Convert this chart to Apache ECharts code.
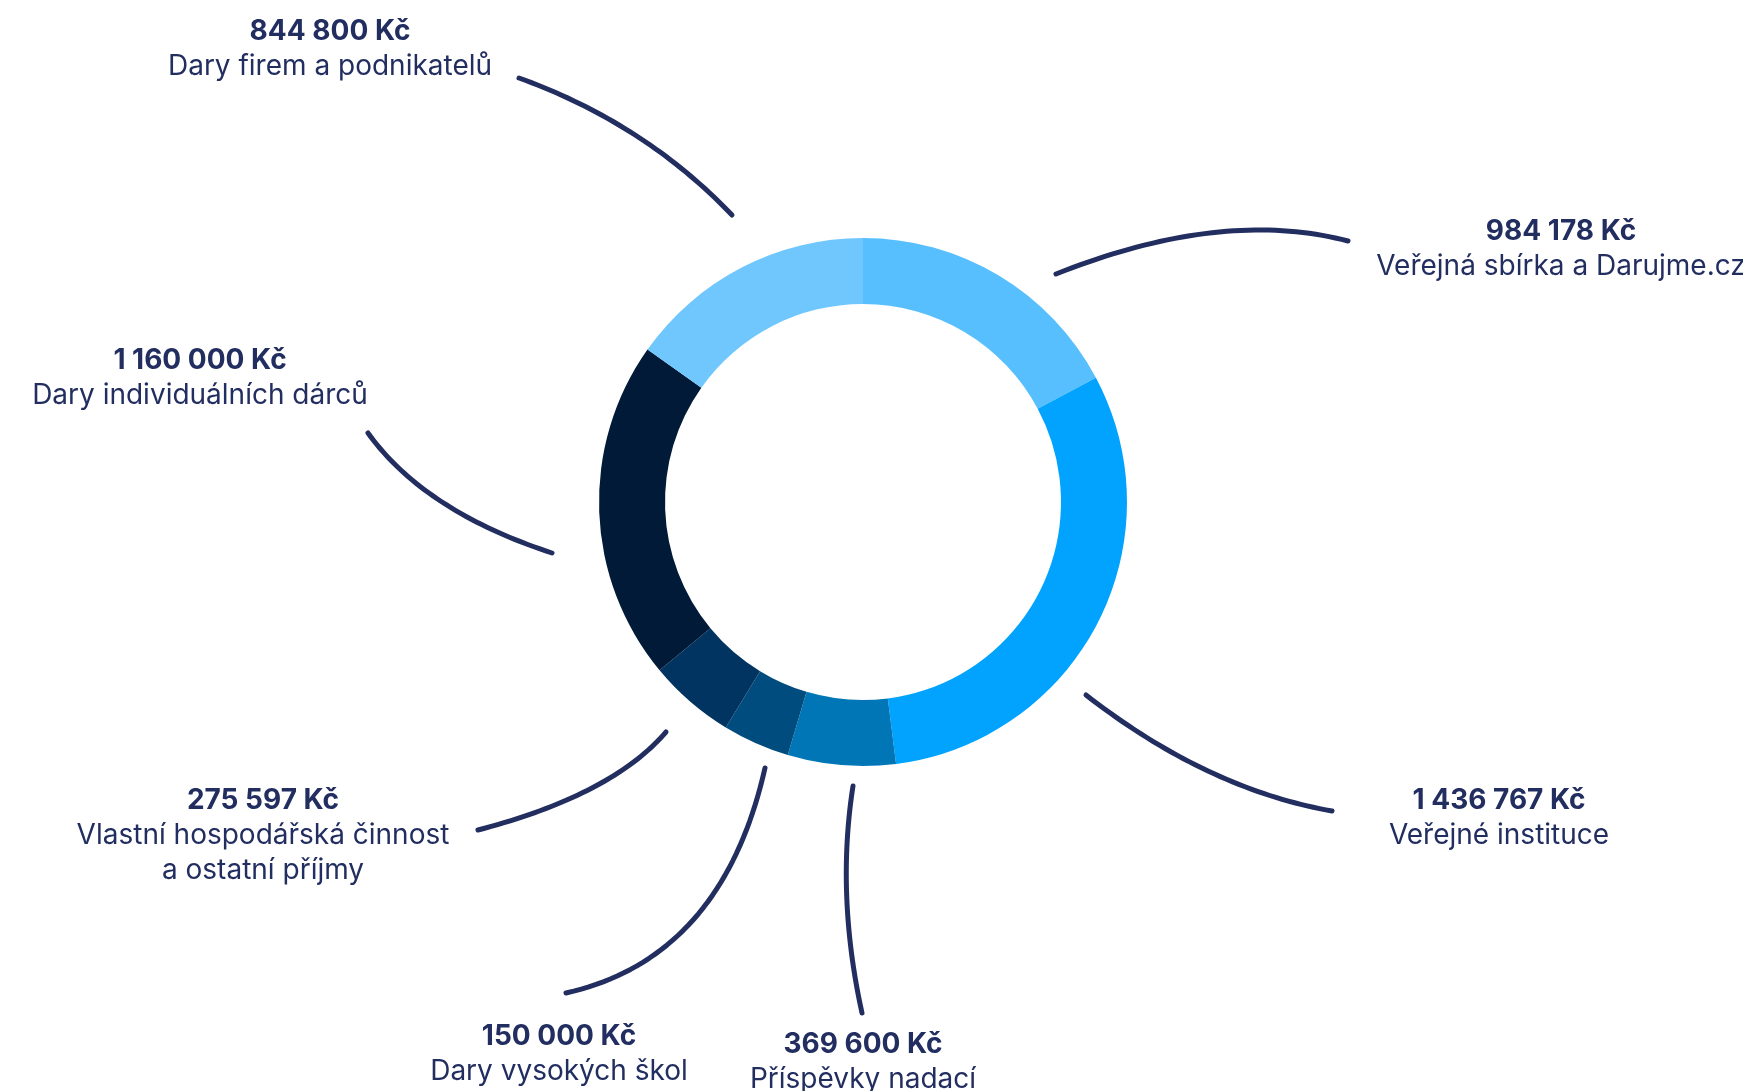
<!DOCTYPE html>
<html>
<head>
<meta charset="utf-8">
<script src="https://cdn.jsdelivr.net/npm/echarts@6/dist/echarts.min.js"></script>
<style>
html,body{margin:0;padding:0;background:#ffffff;}
#chart{width:1743px;height:1091px;}
</style>
</head>
<body>
<div id="chart"></div>
<script>
// ---- data ----
const categories = [
  'Veřejná sbírka a Darujme.cz',
  'Veřejné instituce',
  'Příspěvky nadací',
  'Dary vysokých škol',
  'Vlastní hospodářská činnost\na ostatní příjmy',
  'Dary individuálních dárců',
  'Dary firem a podnikatelů'
];
const amountsCZK = [984178, 1436767, 369600, 150000, 275597, 1160000, 844800];
// share of the ring each slice occupies in the picture (percent)
const ringShares = [17.2, 30.8, 6.6, 4.1, 5.3, 20.8, 15.2];

// ---- styles / placement ----
const sliceColors = ['#57BFFE', '#01A3FE', '#0076B7', '#004C7E', '#013461', '#011A38', '#6FC7FE'];
const inkColor = '#222E60';
// label anchor (centre x, top y) and leader curve (start at ring, bend, end at label)
const labelPlacement = [
  {x: 1561, y: 214, line: [[1056, 274], [1222, 208], [1348, 241]]},
  {x: 1499, y: 783, line: [[1086, 695], [1207, 789], [1332, 811]]},
  {x: 863,  y: 1027, line: [[853, 786], [836, 895], [862, 1013]]},
  {x: 559,  y: 1019, line: [[765, 768], [722, 958], [566, 993]]},
  {x: 263,  y: 783, line: [[666, 732], [612, 795], [478, 830]]},
  {x: 200,  y: 343, line: [[552, 553], [424, 511], [368, 433]]},
  {x: 330,  y: 14,  line: [[732, 215], [644, 123], [519, 78]]}
];

function fmtKc(n) {
  return String(n).replace(/\B(?=(\d{3})+(?!\d))/g, ' ') + ' Kč';
}

// sample a quadratic curve through the three guide points
function curvePoints(g, steps) {
  const pts = [];
  for (let k = 0; k <= steps; k++) {
    const t = k / steps, a = (1 - t) * (1 - t), b = 2 * t * (1 - t), c = t * t;
    pts.push([a * g[0][0] + b * g[1][0] + c * g[2][0], a * g[0][1] + b * g[1][1] + c * g[2][1]]);
  }
  return pts;
}

const seriesData = categories.map((name, i) => ({
  name: name,
  value: ringShares[i],
  itemStyle: {color: sliceColors[i]}
}));

const chart = echarts.init(document.getElementById('chart'), null, {renderer: 'canvas'});
chart.setOption({
  animation: false,
  backgroundColor: '#ffffff',
  series: [{
    type: 'pie',
    center: [863, 502],
    radius: [198, 264],
    startAngle: 90,
    clockwise: true,
    avoidLabelOverlap: false,
    silent: true,
    itemStyle: {borderWidth: 0},
    data: seriesData,
    label: {
      show: true,
      position: 'outside',
      color: inkColor,
      fontFamily: 'Inter',
      formatter: function (p) {
        const nameLines = categories[p.dataIndex].split('\n').map(s => '{n|' + s + '}').join('\n');
        return '{v|' + fmtKc(amountsCZK[p.dataIndex]) + '}\n' + nameLines;
      },
      rich: {
        v: {fontFamily: 'Inter', fontSize: 28, fontWeight: 700, color: inkColor, lineHeight: 35, align: 'center'},
        n: {fontFamily: 'Inter', fontSize: 28, fontWeight: 400, color: inkColor, lineHeight: 35, align: 'center'}
      }
    },
    labelLine: {
      show: true,
      smooth: false,
      lineStyle: {color: inkColor, width: 5, cap: 'round', join: 'round'}
    },
    labelLayout: function (p) {
      const L = labelPlacement[p.dataIndex];
      return {
        x: L.x,
        y: L.y,
        align: 'center',
        verticalAlign: 'top',
        labelLinePoints: curvePoints(L.line, 40)
      };
    }
  }]
});
</script>
</body>
</html>
